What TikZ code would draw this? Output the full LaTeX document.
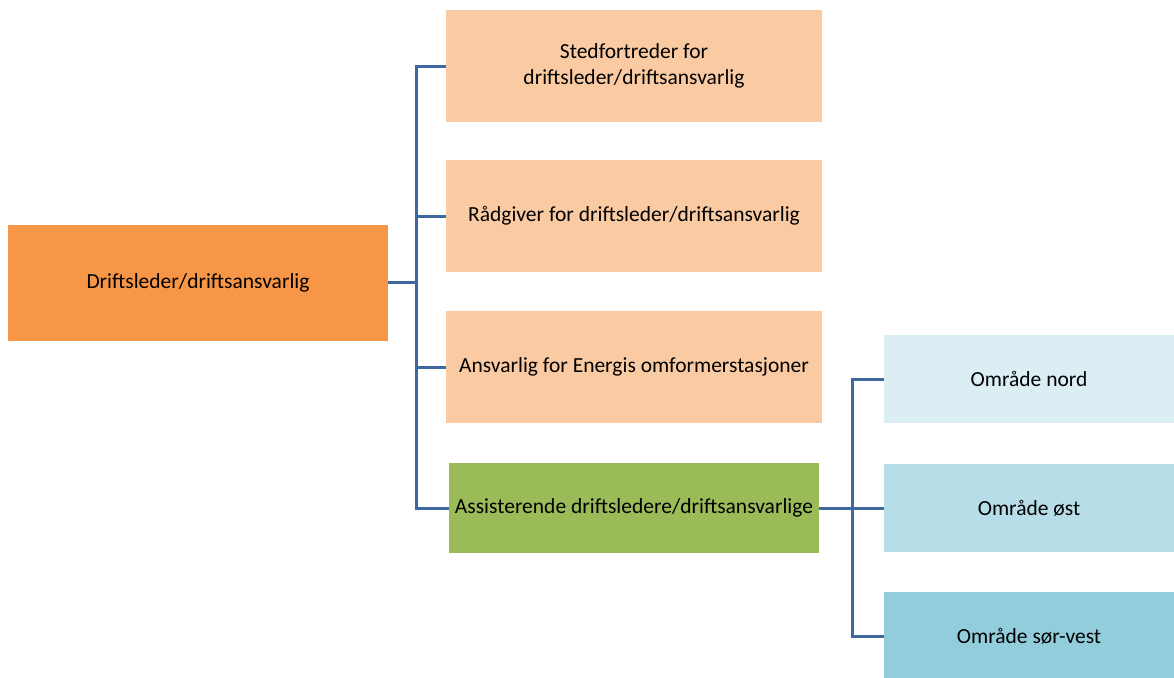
\documentclass[tikz,border=0pt]{standalone}
\usepackage{fontspec}
\setmainfont{Carlito}
\usetikzlibrary{positioning}

\definecolor{rootorange}{HTML}{F79646}
\definecolor{peach}{HTML}{FACAA2}
\definecolor{leafgreen}{HTML}{9BBB59}
\definecolor{blueA}{HTML}{DBEEF4}
\definecolor{blueB}{HTML}{B7DEE8}
\definecolor{blueC}{HTML}{92CDDC}
\definecolor{linkblue}{HTML}{4068A0}

\tikzset{
  box/.style={inner sep=0pt,align=center,font=\fontsize{21.5}{26}\selectfont},
  rootbox/.style={box,fill=rootorange,minimum width=380pt,minimum height=116pt},
  staffbox/.style={box,fill=peach,minimum width=376pt,minimum height=112pt},
  assistbox/.style={box,fill=leafgreen,minimum width=370pt,minimum height=90pt},
  areabox/.style={box,minimum width=290pt,minimum height=88pt},
  link/.style={draw=linkblue,line width=3pt}
}

\begin{document}
\begin{tikzpicture}[x=1pt,y=-1pt]
\useasboundingbox (0,0) rectangle (1174,677);
\node[rootbox] (root) at (198,282.5) {Driftsleder/driftsansvarlig};
\node[staffbox] (sted) at (634,66) {Stedfortreder for\\driftsleder/driftsansvarlig};
\node[staffbox] (raad) at (634,216) {Rådgiver for driftsleder/driftsansvarlig};
\node[staffbox] (omf) at (634,367) {Ansvarlig for Energis omformerstasjoner};
\node[assistbox] (assist) at (634,508) {Assisterende driftsledere/driftsansvarlige};
\node[areabox,fill=blueA] (nord) at (1029,379) {Område nord};
\node[areabox,fill=blueB] (ost) at (1029,508) {Område øst};
\node[areabox,fill=blueC] (sorvest) at (1029,636) {Område sør-vest};

\coordinate (trunkA) at (416,282.5);
\coordinate (trunkB) at (852,508);
\path[link] (root.east) -- (trunkA);
\foreach \n in {sted,raad,omf}
  \path[link] (trunkA) |- (\n.west);
\path[link] (trunkA) |- (446,508) -- (assist.west);
\path[link] (assist.east) -- (trunkB);
\foreach \n in {nord,ost,sorvest}
  \path[link] (trunkB) |- (\n.west);
\end{tikzpicture}
\end{document}
